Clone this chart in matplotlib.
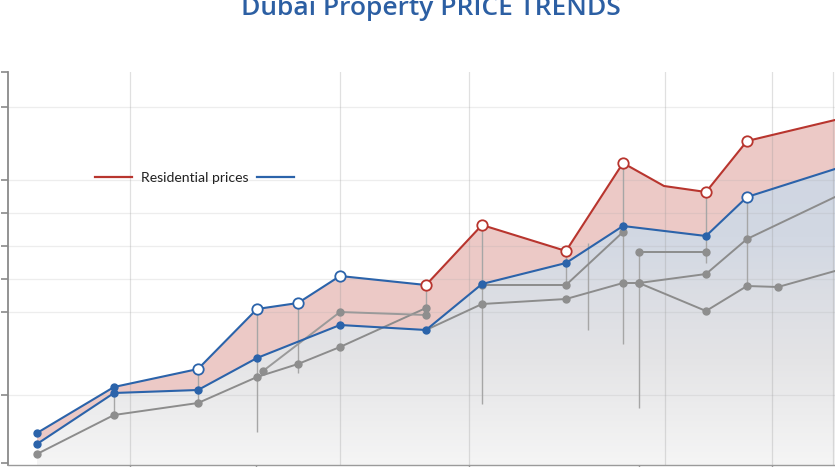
import numpy as np
import matplotlib
matplotlib.use("Agg")
import matplotlib.pyplot as plt
from matplotlib.lines import Line2D

# ---------------- data ----------------
# upper envelope, blue part (left) and red part "Residential prices" (right)
upper_x = [2.9, 10.6, 19.0, 24.9, 29.0, 33.2, 41.8]
upper_y = [728, 912, 984, 1224, 1248, 1356, 1320]
upper_open = [False, False, True, True, True, True, False]

resid_x = [41.8, 47.4, 55.8, 61.5, 65.6, 69.8, 73.9, 82.7]
resid_y = [1320, 1560, 1456, 1808, 1716, 1692, 1896, 1980]
resid_mark = [True, True, True, True, False, True, True, False]

mid_x = [2.9, 10.6, 19.0, 24.9, 33.2, 41.8, 47.4, 55.8, 61.5, 69.8, 73.9, 82.7]
mid_y = [684, 888, 900, 1028, 1160, 1140, 1324, 1408, 1556, 1516, 1672, 1784]
mid_open = [False] * 10 + [True, False]
mid_mark = [True] * 11 + [False]

g1_x = [2.9, 10.6, 19.0, 24.9, 29.0, 33.2, 41.8]
g1_y = [644, 800, 848, 952, 1004, 1072, 1228]
g2_x = [25.5, 33.2, 41.8]
g2_y = [976, 1212, 1200]
g3_x = [41.8, 47.4, 55.8, 61.5, 63.1, 69.8, 73.9, 82.7]
g3_y = [1140, 1244, 1264, 1328, 1328, 1364, 1504, 1672]
g3_mark = [False, True, True, True, True, True, True, False]
g4_x = [47.4, 55.8, 61.5]
g4_y = [1320, 1320, 1532]
g5_x = [63.1, 69.8]
g5_y = [1452, 1452]
g6_x = [63.1, 69.8, 73.9, 77.0, 82.7]
g6_y = [1328, 1216, 1316, 1312, 1376]
g6_mark = [True, True, True, True, False]

drop_x = [10.6, 19.0, 24.9, 29.0, 41.8, 47.4, 55.8, 58.0, 61.5, 63.1, 69.8, 73.9]
drop_top = [912, 984, 1224, 1248, 1320, 1560, 1456, 1488, 1808, 1452, 1692, 1672]
drop_bot = [800, 848, 732, 968, 1200, 844, 1320, 1140, 1084, 828, 1408, 1316]

x_ticks = [12.2, 24.8, 46.1, 63.1, 76.4]
y_ticks = [2172, 2032, 1740, 1608, 1476, 1344, 1212, 880, 608]
x_grid = [12.2, 33.2, 46.1, 65.7, 76.4, 82.5]
y_grid = [2032, 1740, 1608, 1476, 1344, 1212, 880]

title = "Dubai Property PRICE TRENDS"
legend_label = "Residential prices"

# ---------------- styling ----------------
RED = "#b8352e"
BLUE = "#2b63aa"
GRAY = "#8c8c8c"
DROP = "#a6a6a6"

W, H = 835, 467
fig = plt.figure(figsize=(W / 100, H / 100), dpi=100)
fig.patch.set_facecolor("white")
ax = fig.add_axes([8 / W, 2 / H, 827 / W, 393 / H])
XMIN, XMAX = 0, 82.7
YMIN, YMAX = 600, 2172
ax.set_xlim(XMIN, XMAX)
ax.set_ylim(YMIN, YMAX)

# gradient fill under middle line
stops_f = [0.0, 0.27, 0.42, 0.58, 1.0]  # fraction from bottom
stops_c = np.array([(245, 245, 245), (228, 228, 230), (220, 222, 228),
                    (210, 216, 227), (204, 211, 225)]) / 255.0
fr = np.linspace(0, 1, 400)
grad = np.stack([np.interp(fr, stops_f, stops_c[:, k]) for k in range(3)], axis=1)
grad = grad[:, None, :]
poly = ax.fill_between(mid_x, mid_y, YMIN, facecolor="none", edgecolor="none")
im = ax.imshow(grad, extent=[XMIN, XMAX, YMIN, YMAX], origin="lower",
               aspect="auto", zorder=1)
im.set_clip_path(poly.get_paths()[0], transform=ax.transData)

# red fill between upper envelope and middle
env_x = upper_x + resid_x[1:]
env_y = upper_y + resid_y[1:]
xs = np.union1d(env_x, mid_x)
ax.fill_between(xs, np.interp(xs, env_x, env_y), np.interp(xs, mid_x, mid_y),
                facecolor="#e9c0bc", edgecolor="none", alpha=0.85, zorder=1.5)

# grid
for gx in x_grid:
    ax.axvline(gx, color="#9a9a9a", alpha=0.3, lw=0.9, zorder=2)
for gy in y_grid:
    ax.axhline(gy, color="#a8a8a8", alpha=0.2, lw=0.9, zorder=2)

# drop lines
ax.vlines(drop_x, drop_bot, drop_top, color=DROP, lw=1.0, zorder=2.5)

# gray lines
gkw = dict(color=GRAY, lw=1.4, zorder=3)
mkw = dict(ls="none", marker="o", ms=5, color="#8e8e8e", zorder=3.2)
ax.plot(g1_x, g1_y, **gkw)
ax.plot(g1_x, g1_y, **mkw)
ax.plot(g2_x, g2_y, color="#9a9a9a", lw=1.4, zorder=3)
ax.plot(g2_x, g2_y, **mkw)
ax.plot(g3_x, g3_y, **gkw)
ax.plot(np.array(g3_x)[g3_mark], np.array(g3_y)[g3_mark], **mkw)
ax.plot(g4_x, g4_y, **gkw)
ax.plot(g4_x, g4_y, **mkw)
ax.plot(g5_x, g5_y, **gkw)
ax.plot(g5_x, g5_y, **mkw)
ax.plot(g6_x, g6_y, **gkw)
ax.plot(np.array(g6_x)[g6_mark], np.array(g6_y)[g6_mark], **mkw)

# middle blue line
ax.plot(mid_x, mid_y, color=BLUE, lw=1.5, zorder=4)
mx, my = np.array(mid_x), np.array(mid_y)
mo, mm = np.array(mid_open), np.array(mid_mark)
ax.plot(mx[mm & ~mo], my[mm & ~mo], ls="none", marker="o", ms=5, color=BLUE, zorder=4.2)
ax.plot(mx[mm & mo], my[mm & mo], ls="none", marker="o", ms=7.5, mfc="white",
        mec=BLUE, mew=1.3, zorder=4.2)

# upper blue line
ax.plot(upper_x, upper_y, color=BLUE, lw=1.5, zorder=4)
ux, uy, uo = np.array(upper_x), np.array(upper_y), np.array(upper_open)
ax.plot(ux[:2], uy[:2], ls="none", marker="o", ms=5, color=BLUE, zorder=4.2)
ax.plot(ux[uo], uy[uo], ls="none", marker="o", ms=7.5, mfc="white",
        mec=BLUE, mew=1.3, zorder=4.2)

# red line
ax.plot(resid_x, resid_y, color=RED, lw=1.5, zorder=4.1)
rx, ry, rm = np.array(resid_x), np.array(resid_y), np.array(resid_mark)
ax.plot(rx[rm], ry[rm], ls="none", marker="o", ms=7.5, mfc="white",
        mec=RED, mew=1.3, zorder=4.3)

# axes styling
for s in ["top", "right"]:
    ax.spines[s].set_visible(False)
ax.spines["left"].set_color("#8a8a8a")
ax.spines["left"].set_linewidth(1.3)
ax.spines["bottom"].set_color("#9a9a9a")
ax.spines["bottom"].set_linewidth(1.0)
ax.set_xticks(x_ticks)
ax.set_yticks(y_ticks)
ax.set_xticklabels([])
ax.set_yticklabels([])
ax.tick_params(axis="y", length=5, width=1.2, color="#8a8a8a", direction="out")
ax.tick_params(axis="x", length=4, width=1.0, color="#9a9a9a", direction="out")
for t in ax.yaxis.get_major_ticks():
    t.tick1line.set_clip_on(False)

# legend
handles = [Line2D([], [], color=RED, lw=1.6), Line2D([], [], color=BLUE, lw=1.6)]
leg = fig.legend(handles, [legend_label, ""], ncol=2, frameon=False,
                 loc="center left", bbox_to_anchor=(95 / W, 1 - 178 / H),
                 borderpad=0, borderaxespad=0, handlelength=2.65,
                 handletextpad=0.65, columnspacing=0.6,
                 prop={"family": ["Lato", "DejaVu Sans"], "size": 10.1})
for t in leg.get_texts():
    t.set_color("#222222")

# title (cut off at top, as in reference)
fig.text(430.5 / W, 1 - 15 / H, title, ha="center", va="baseline",
         fontsize=19, fontweight="semibold", color="#2c5fa3",
         family=["Open Sans", "DejaVu Sans"])

fig.savefig("out.png", dpi=100, facecolor="white")
